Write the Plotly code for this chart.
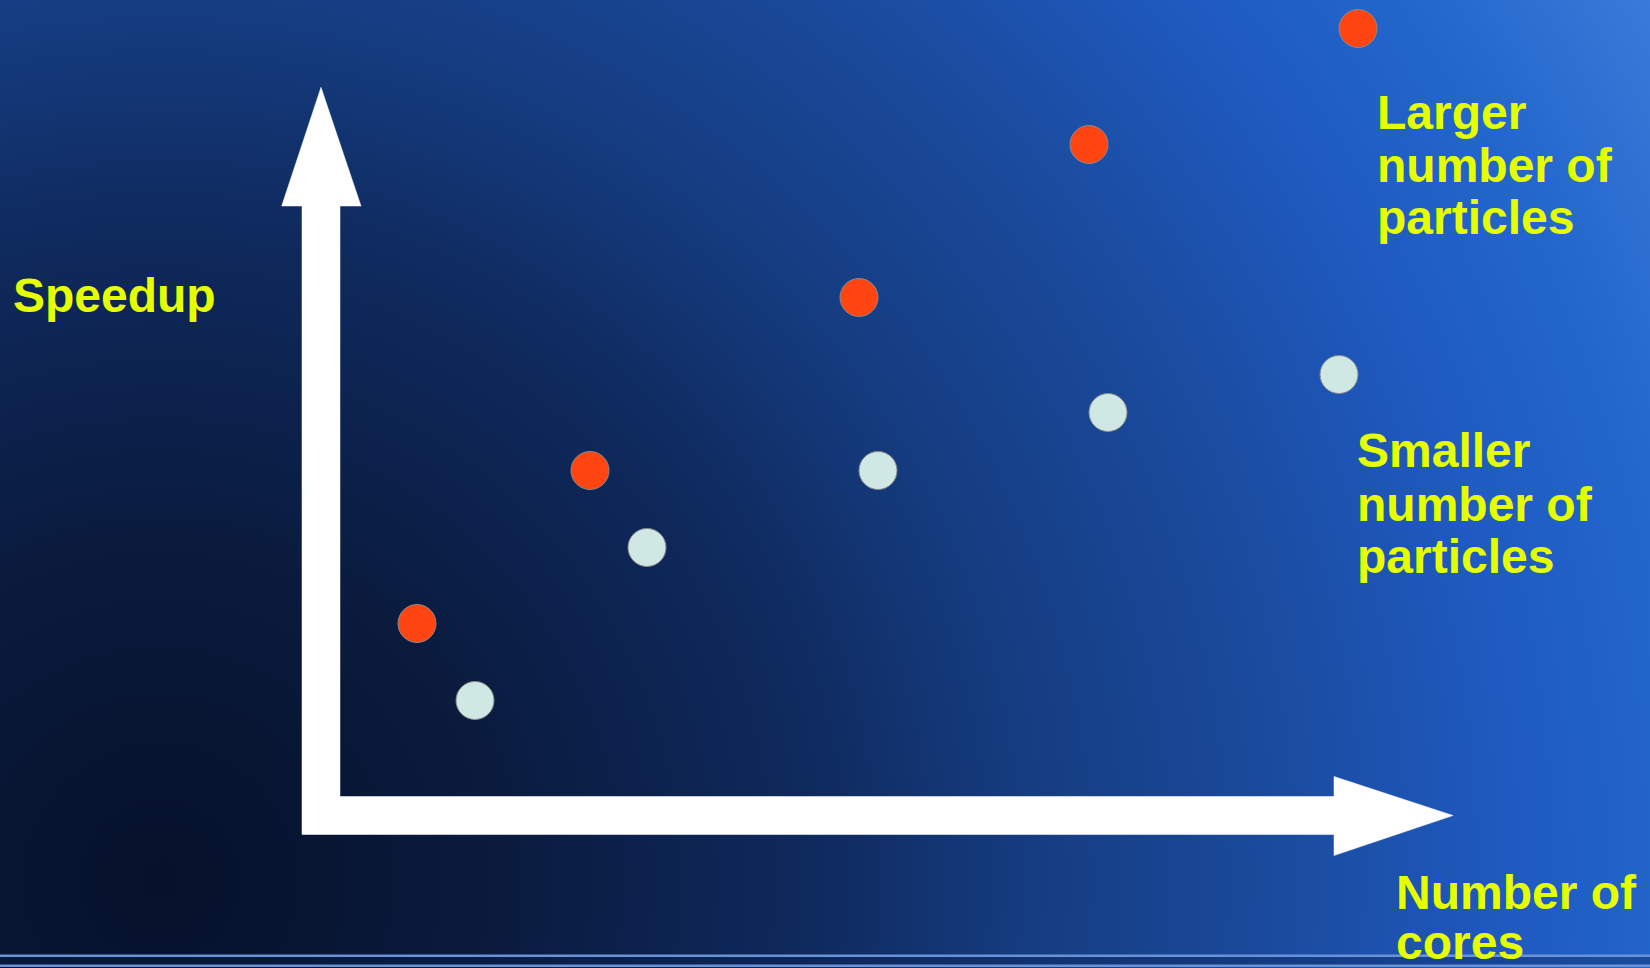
import base64
import plotly.graph_objects as go

# ---- data (abstract units: cores on x, speedup on y) ----
large_cores = [0.96, 2.69, 5.38, 7.68, 10.37]
large_speedup = [1.92, 3.45, 5.18, 6.71, 7.87]
small_cores = [1.54, 3.26, 5.57, 7.87, 10.18]
small_speedup = [1.15, 2.68, 3.45, 4.03, 4.41]

W, H = 1650, 968
X_RANGE = [-3.21, 13.29]
Y_RANGE = [-1.525, 8.155]

YELLOW = "#E6FF00"
FONT = "Liberation Sans, Arial, sans-serif"

# ---- background radial gradient as svg image ----
svg = f'''<svg xmlns="http://www.w3.org/2000/svg" width="{W}" height="{H}" viewBox="0 0 {W} {H}">
<defs><radialGradient id="g" gradientUnits="userSpaceOnUse" cx="160" cy="880" r="1730">
<stop offset="0" stop-color="#06112a"/>
<stop offset="0.2" stop-color="#0a1b3e"/>
<stop offset="0.38" stop-color="#0f2a5e"/>
<stop offset="0.5" stop-color="#153c80"/>
<stop offset="0.64" stop-color="#1a4a9c"/>
<stop offset="0.78" stop-color="#1f5ac0"/>
<stop offset="0.88" stop-color="#2266cc"/>
<stop offset="1" stop-color="#3a7ad8"/>
</radialGradient></defs>
<rect x="0" y="0" width="{W}" height="{H}" fill="url(#g)"/>
<rect x="0" y="957" width="{W}" height="9" fill="#0a2050" fill-opacity="0.35"/>
<rect x="0" y="954.5" width="{W}" height="2.5" fill="#6a92d6"/>
<rect x="0" y="964.5" width="{W}" height="2.5" fill="#6a92d6"/>
</svg>'''
bg_src = "data:image/svg+xml;base64," + base64.b64encode(svg.encode()).decode()

fig = go.Figure()

fig.add_trace(go.Scatter(
    x=large_cores, y=large_speedup, mode="markers",
    marker=dict(size=38, color="#FF4512", line=dict(color="#8a8a8a", width=1)),
    name="Larger number of particles", showlegend=False, hoverinfo="x+y",
))
fig.add_trace(go.Scatter(
    x=small_cores, y=small_speedup, mode="markers",
    marker=dict(size=38, color="#D0E8E4", line=dict(color="#8a8a8a", width=1)),
    name="Smaller number of particles", showlegend=False, hoverinfo="x+y",
))

# axis arrows (L-shaped, in axis units)
arrow_path = ("M -0.19,-0.19 L -0.19,6.095 L -0.393,6.095 L 0,7.282 L 0.40,6.095 "
              "L 0.19,6.095 L 0.19,0.19 L 10.13,0.19 L 10.13,0.39 L 11.32,0 "
              "L 10.13,-0.40 L 10.13,-0.19 Z")
fig.add_shape(type="path", path=arrow_path, xref="x", yref="y",
              fillcolor="white", line=dict(color="white", width=0.5), layer="below")


def label(text, px, py_center):
    fig.add_annotation(
        text=f"<b>{text}</b>", x=px / W, y=1 - py_center / H, xref="paper", yref="paper",
        xanchor="left", yanchor="middle", showarrow=False,
        font=dict(family=FONT, size=48, color=YELLOW),
    )


label("Speedup", 11, 295.5)
for t, yc in zip(["Larger", "number of", "particles"], [112, 165.5, 217]):
    label(t, 1375, yc)
for t, yc in zip(["Smaller", "number of", "particles"], [450.5, 504, 556.5]):
    label(t, 1355, yc)
for t, yc in zip(["Number of", "cores"], [892, 942]):
    label(t, 1394, yc)

fig.update_layout(
    width=W, height=H,
    margin=dict(l=0, r=0, t=0, b=0),
    paper_bgcolor="#0f2a5c", plot_bgcolor="rgba(0,0,0,0)",
    images=[dict(source=bg_src, xref="paper", yref="paper", x=0, y=1,
                 sizex=1, sizey=1, sizing="stretch", layer="below",
                 xanchor="left", yanchor="top")],
    xaxis=dict(range=X_RANGE, visible=False, showgrid=False, zeroline=False, fixedrange=True),
    yaxis=dict(range=Y_RANGE, visible=False, showgrid=False, zeroline=False, fixedrange=True),
    showlegend=False,
)

fig.write_html("out.html", config={"displayModeBar": False})
